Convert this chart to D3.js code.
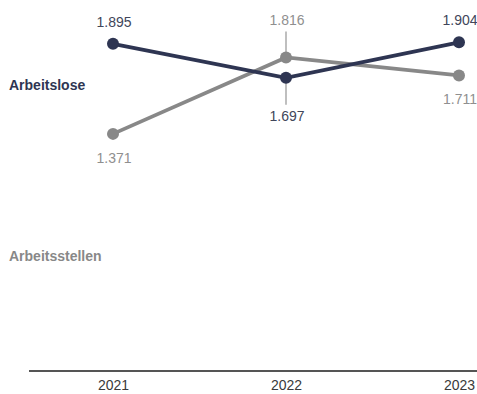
<!DOCTYPE html>
<html>
<head>
<meta charset="utf-8">
<script src="https://cdn.jsdelivr.net/npm/d3@7"></script>
<style>
  html, body { margin: 0; padding: 0; background: #fff; }
  svg { display: block; font-family: Arial, "Liberation Sans", Helvetica, sans-serif; }
</style>
</head>
<body>
<svg id="chart" width="477" height="394"></svg>
<script>
// Jahre auf der x-Achse
const years = ["2021", "2022", "2023"];
// Werte in Millionen
const arbeitslose = [1.895, 1.697, 1.904];
const arbeitsstellen = [1.371, 1.816, 1.711];
// Beschriftungsposition je Punkt: "above" / "below"; "-far" = mit Hilfslinie
const arbeitsloseLabelPos = ["above", "below-far", "above"];
const arbeitsstellenLabelPos = ["below", "above-far", "below"];
const seriesNames = ["Arbeitslose", "Arbeitsstellen"];

const colors = { Arbeitslose: "#2e3552", Arbeitsstellen: "#888888" };
const textColors = { Arbeitslose: "#41465a", Arbeitsstellen: "#8f8f8f" };

const svg = d3.select("#chart");

const x = d3.scalePoint().domain(years).range([113, 459]);
const y = d3.scaleLinear().domain([0, 2.15]).range([369.5, 0]);

const fmt = d3.format(".3f");

// x-Achse
const xAxis = d3.axisBottom(x).tickSize(0).tickPadding(9);
const axisG = svg.append("g").attr("transform", "translate(0,371)").call(xAxis);
axisG.select(".domain").remove();
axisG.selectAll("text")
  .attr("font-size", 14)
  .attr("fill", "#3a3a3a")
  .attr("font-family", "Arial, 'Liberation Sans', sans-serif");
svg.append("line")
  .attr("x1", 29).attr("x2", 477)
  .attr("y1", 371).attr("y2", 371)
  .attr("stroke", "#555").attr("stroke-width", 2);

const series = [
  { name: "Arbeitsstellen", values: arbeitsstellen, pos: arbeitsstellenLabelPos },
  { name: "Arbeitslose", values: arbeitslose, pos: arbeitsloseLabelPos }
];

const line = d3.line().x((d, i) => x(years[i])).y(d => y(d));

// Hilfslinien zu versetzten Beschriftungen
series.forEach(s => {
  s.values.forEach((v, i) => {
    const p = s.pos[i];
    if (p === "above-far") {
      svg.append("line")
        .attr("x1", x(years[i])).attr("x2", x(years[i]))
        .attr("y1", y(v) - 26).attr("y2", y(v))
        .attr("stroke", "#aaa").attr("stroke-width", 1.5);
    } else if (p === "below-far") {
      svg.append("line")
        .attr("x1", x(years[i])).attr("x2", x(years[i]))
        .attr("y1", y(v)).attr("y2", y(v) + 27)
        .attr("stroke", "#aaa").attr("stroke-width", 1.5);
    }
  });
});

series.forEach(s => {
  svg.append("path")
    .datum(s.values)
    .attr("d", line)
    .attr("fill", "none")
    .attr("stroke", colors[s.name])
    .attr("stroke-width", 3.8);

  svg.selectAll(null)
    .data(s.values)
    .enter().append("circle")
    .attr("cx", (d, i) => x(years[i]))
    .attr("cy", d => y(d))
    .attr("r", 6)
    .attr("fill", colors[s.name]);

  svg.selectAll(null)
    .data(s.values)
    .enter().append("text")
    .attr("x", (d, i) => x(years[i]) + 1)
    .attr("y", (d, i) => {
      const p = s.pos[i];
      if (p === "above") return y(d) - 17;
      if (p === "above-far") return y(d) - 32;
      if (p === "below") return y(d) + 29;
      return y(d) + 43;
    })
    .attr("text-anchor", "middle")
    .attr("font-size", 14)
    .attr("fill", textColors[s.name])
    .text(d => fmt(d));
});

// Serienbeschriftungen links
svg.append("text")
  .attr("x", 9).attr("y", 90)
  .attr("font-size", 14).attr("font-weight", "bold")
  .attr("fill", colors.Arbeitslose)
  .text(seriesNames[0]);
svg.append("text")
  .attr("x", 9).attr("y", 261)
  .attr("font-size", 14).attr("font-weight", "bold")
  .attr("fill", colors.Arbeitsstellen)
  .text(seriesNames[1]);
</script>
</body>
</html>
